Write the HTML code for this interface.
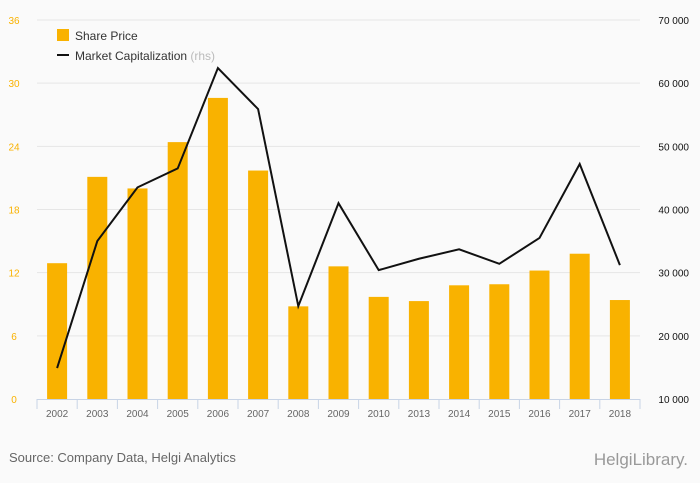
<!DOCTYPE html>
<html><head><meta charset="utf-8"><style>
body{margin:0;background:#fafafa;}
svg{display:block;font-family:"Liberation Sans",sans-serif;}
</style></head><body>
<svg id="c" width="700" height="483">
<rect x="0" y="0" width="700" height="483" fill="#fafafa"/>
<g id="grid"></g><g id="bars"></g><g id="line"></g><g id="axes"></g>
<g>
<rect x="57" y="29" width="12" height="12" fill="#f9b200"/>
<text x="75" y="40" font-size="12" fill="#333">Share Price</text>
<line x1="57" y1="55" x2="69" y2="55" stroke="#111" stroke-width="2"/>
<text x="75" y="60" font-size="12" fill="#333">Market Capitalization <tspan fill="#bbb">(rhs)</tspan></text>
</g>
<text x="9" y="462" font-size="13" fill="#666">Source: Company Data, Helgi Analytics</text>
<text x="688" y="465" font-size="17" fill="#999" text-anchor="end">HelgiLibrary.</text>
</svg>
<script>
const categories=["2002","2003","2004","2005","2006","2007","2008","2009","2010","2013","2014","2015","2016","2017","2018"];
const sharePrice=[12.9,21.1,20.0,24.4,28.6,21.7,8.8,12.6,9.7,9.3,10.8,10.9,12.2,13.8,9.4];
const marketCap=[14900,35000,43500,46500,62400,55900,24700,41000,30400,32200,33700,31400,35500,47200,31200];
const leftTicks=[0,6,12,18,24,30,36];
const rightTicks=[10000,20000,30000,40000,50000,60000,70000];
const NS="http://www.w3.org/2000/svg";
const x0=37,x1=640,yTop=20,yBot=399;
const step=(x1-x0)/categories.length;
const xC=i=>x0+step*(i+0.5);
const yL=v=>yBot-(v/36)*(yBot-yTop);
const yR=v=>yBot-((v-10000)/60000)*(yBot-yTop);
function mk(t,a,p){const e=document.createElementNS(NS,t);for(const k in a)e.setAttribute(k,a[k]);p.appendChild(e);return e;}
const g=document.getElementById('grid'),b=document.getElementById('bars'),l=document.getElementById('line'),ax=document.getElementById('axes');
leftTicks.forEach((v,i)=>{
 if(v>0){const gl=mk('line',{x1:x0,x2:x1,y1:yL(v),y2:yL(v),stroke:'#e6e6e6','stroke-width':1},g);
 
 }
 const t=mk('text',{x:14,y:yL(v)+4,'font-size':10,fill:'#f9b200','text-anchor':'middle'},ax);t.textContent=v;
 
 
});
rightTicks.forEach(v=>{
 const t=mk('text',{x:689,y:yR(v)+4,'font-size':10,fill:'#111','text-anchor':'end'},ax);t.textContent=v.toLocaleString('en').replace(',',' ');
 
 
});
sharePrice.forEach((v,i)=>{
 const r=mk('rect',{x:xC(i)-10,y:yL(v),width:20,height:yBot-yL(v),fill:'#f9b200'},b);
 
 
});
const pl=mk('polyline',{points:marketCap.map((v,i)=>xC(i)+','+yR(v)).join(' '),fill:'none',stroke:'#111','stroke-width':2,'stroke-linejoin':'miter'},l);


const al=mk('line',{x1:x0,x2:x1,y1:yBot+0.5,y2:yBot+0.5,stroke:'#c8d4e6'},ax);


for(let i=0;i<=categories.length;i++){
 const tk=mk('line',{x1:x0+step*i,x2:x0+step*i,y1:yBot,y2:yBot+10,stroke:'#c8d4e6'},ax);
 
 
}
categories.forEach((c,i)=>{
 const t=mk('text',{x:xC(i),y:417,'font-size':10,fill:'#666','text-anchor':'middle'},ax);t.textContent=c;
 
 
});
</script>
</body></html>
